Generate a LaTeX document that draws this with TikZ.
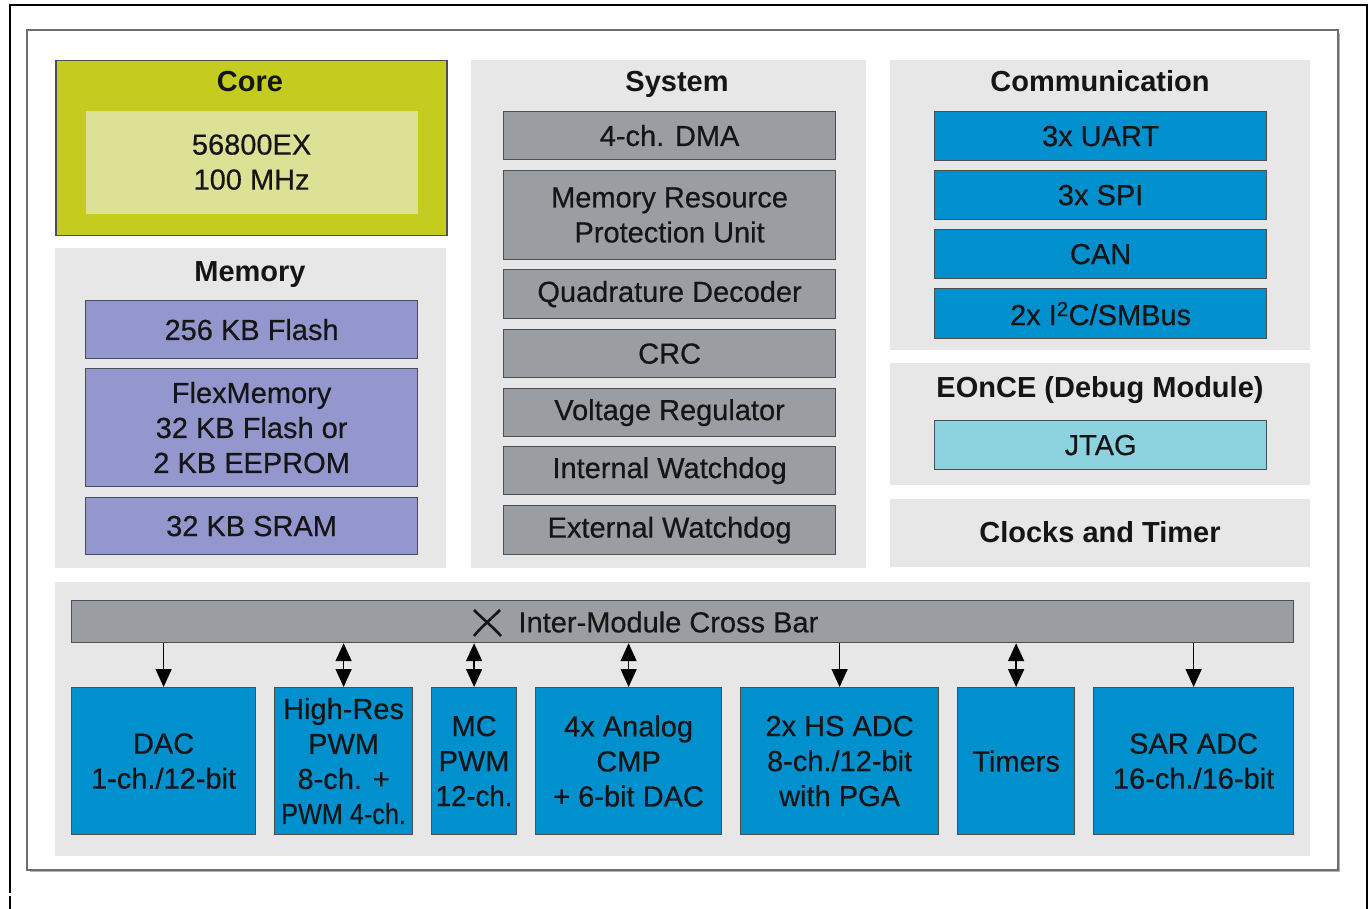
\documentclass[tikz,border=0pt]{standalone}
\usepackage{fontspec}
\usepackage{graphicx}
\setmainfont{Liberation Sans}[UprightFeatures={FakeBold=0.5}]
\usetikzlibrary{arrows.meta}
\definecolor{panelc}{HTML}{E7E7E7}
\definecolor{olive}{HTML}{C4CD1F}
\definecolor{olivein}{HTML}{DCE196}
\definecolor{lav}{HTML}{9397CD}
\definecolor{sysc}{HTML}{9A9EA3}
\definecolor{bluec}{HTML}{0090CD}
\definecolor{cyanc}{HTML}{8DD3DF}
\definecolor{bordc}{HTML}{4A4F55}
\definecolor{txt}{HTML}{151515}
\definecolor{framec}{HTML}{6E6E6E}
\tikzset{
  panel/.style={fill=panelc, draw=none, anchor=north west, inner sep=0pt},
  title/.style={anchor=base, font=\fontsize{29}{35}\selectfont\bfseries, text=txt},
  blk/.style={draw=bordc, line width=1.2pt, anchor=north west, inner sep=0pt, align=center, text=txt},
  sysbox/.style={blk, fill=sysc, minimum width=332pt},
  membox/.style={blk, fill=lav, minimum width=332pt},
  combox/.style={blk, fill=bluec, minimum width=332pt},
  perbox/.style={blk, fill=bluec, minimum height=147pt},
  dn/.style={-{Triangle[width=16pt,length=18pt]}, line width=1.6pt, black},
  both/.style={{Triangle[width=16pt,length=18pt]}-{Triangle[width=16pt,length=18pt]}, line width=1.6pt, black}
}
\begin{document}
\begin{tikzpicture}[x=1pt,y=-1pt, font=\fontsize{29}{35}\selectfont]
\useasboundingbox (0,0) rectangle (1370,909);
\fill[white] (0,0) rectangle (1370,909);
% outer black frame
\draw[black, line width=2pt] (10,893) -- (10,5) -- (1367,5) -- (1367,909);
\draw[black, line width=2pt] (10,896) -- (10,909);
% gray frame
\fill[gray!60] (30,33) rectangle (1340,872);
\draw[framec, line width=1.5pt, fill=white] (27,30) rectangle (1338,870);

% Core
\node[blk, fill=olive, line width=1.5pt, minimum width=391pt, minimum height=175pt] (core) at (55,60) {};
\node[title] (coreT) at (250,92) {Core};
\node[blk, draw=none, fill=olivein, minimum width=332pt, minimum height=103pt] (cpu) at (85,110) {56800EX\\100 MHz};

% Memory
\node[panel, minimum width=391pt, minimum height=320pt] (mem) at (55,248) {};
\node[title] (memT) at (250,282) {Memory};
\node[membox, minimum height=58pt] (flash) at (85,300) {256 KB Flash};
\node[membox, minimum height=118pt] (flex) at (85,368) {FlexMemory\\32 KB Flash or\\2 KB EEPROM};
\node[membox, minimum height=57pt] (sram) at (85,497) {32 KB SRAM};

% System
\node[panel, minimum width=395pt, minimum height=508pt] (sys) at (471,60) {};
\node[title] (sysT) at (677,92) {System};
\node[sysbox, minimum height=48pt] (dma) at (503,111) {4-ch. DMA};
\node[sysbox, minimum height=89pt] (mrpu) at (503,170) {Memory Resource\\Protection Unit};
\node[sysbox, minimum height=49pt] (qd) at (503,269) {Quadrature Decoder};
\node[sysbox, minimum height=48pt] (crc) at (503,329) {CRC};
\node[sysbox, minimum height=48pt] (vr) at (503,388) {Voltage Regulator};
\node[sysbox, minimum height=48pt] (iw) at (503,446) {Internal Watchdog};
\node[sysbox, minimum height=49pt] (ew) at (503,505) {External Watchdog};

% Communication
\node[panel, minimum width=420pt, minimum height=290pt] (com) at (890,60) {};
\node[title] (comT) at (1100,92) {Communication};
\node[combox, minimum height=49pt] (uart) at (934,111) {3x UART};
\node[combox, minimum height=49pt] (spi) at (934,170) {3x SPI};
\node[combox, minimum height=49pt] (can) at (934,229) {CAN};
\node[combox, minimum height=50pt] (iic) at (934,288) {2x I\textsuperscript{2}C/SMBus};

% EOnCE
\node[panel, minimum width=420pt, minimum height=122pt] (eon) at (890,363) {};
\node[title] (eonT) at (1100,397) {EOnCE (Debug Module)};
\node[blk, fill=cyanc, minimum width=332pt, minimum height=49pt] (jtag) at (934,420) {JTAG};

% Clocks
\node[panel, minimum width=420pt, minimum height=68pt] (clk) at (890,499) {};
\node[title] (clkT) at (1100,542) {Clocks and Timer};

% Peripherals
\node[panel, minimum width=1255pt, minimum height=274pt] (per) at (55,582) {};
\node[blk, fill=sysc, minimum width=1222pt, minimum height=42pt] (bar) at (71,600) {};
\node[text=txt, anchor=west] (barT) at (515,622) {Inter-Module Cross Bar};
\draw[txt, line width=2.6pt] (474,610) .. controls (484,620) and (492,626) .. (501,636);
\draw[txt, line width=2.6pt] (500,610) .. controls (490,620) and (482,626) .. (474,636);

\node[perbox, minimum width=184pt] (dac) at (71,687) {DAC\\1-ch./12-bit};
\node[perbox, minimum width=138pt] (hr) at (274,687) {High-Res\\PWM\\8-ch. +\\\scalebox{0.87}[1]{PWM 4-ch.}};
\node[perbox, minimum width=85pt] (mc) at (431,687) {MC\\PWM\\\scalebox{0.95}[1]{12-ch.}};
\node[perbox, minimum width=186pt] (an) at (535,687) {4x Analog\\CMP\\+ 6-bit DAC};
\node[perbox, minimum width=198pt] (hs) at (740,687) {2x HS ADC\\8-ch./12-bit\\with PGA};
\node[perbox, minimum width=117pt] (tm) at (957,687) {Timers};
\node[perbox, minimum width=200pt] (sar) at (1093,687) {SAR ADC\\16-ch./16-bit};

\draw[dn] (dac.north |- bar.south) -- (dac.north);
\draw[both] (hr.north |- bar.south) -- (hr.north);
\draw[both] (mc.north |- bar.south) -- (mc.north);
\draw[both] (an.north |- bar.south) -- (an.north);
\draw[dn] (hs.north |- bar.south) -- (hs.north);
\draw[both] (tm.north |- bar.south) -- (tm.north);
\draw[dn] (sar.north |- bar.south) -- (sar.north);
\end{tikzpicture}
\end{document}
